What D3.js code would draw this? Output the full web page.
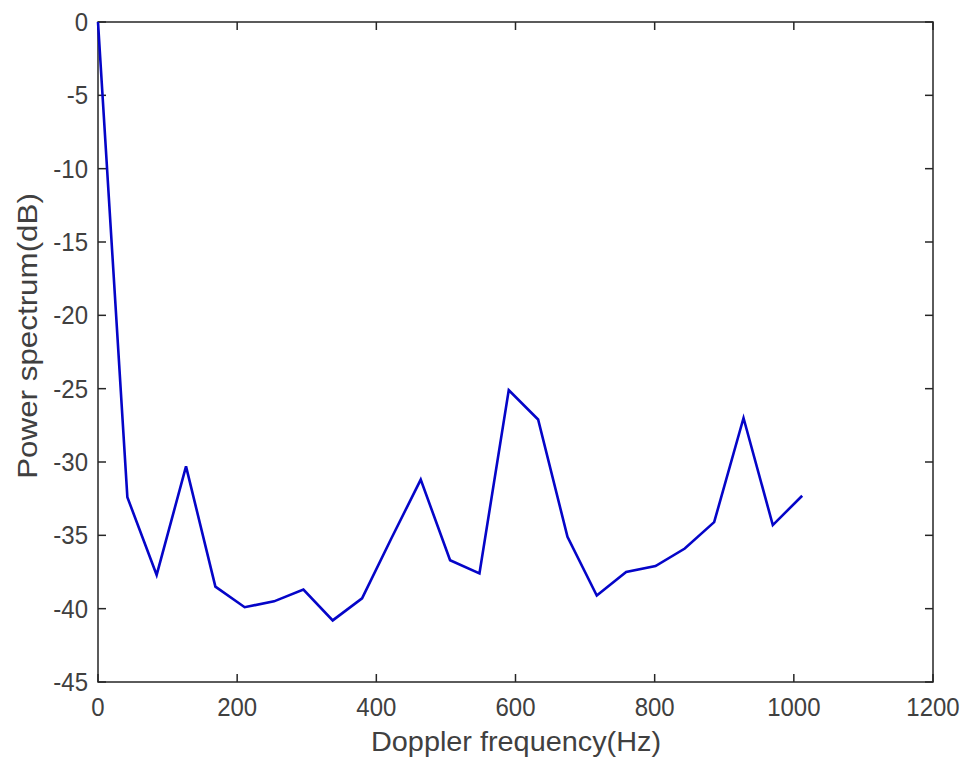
<!DOCTYPE html>
<html>
<head>
<meta charset="utf-8">
<script src="https://cdn.jsdelivr.net/npm/d3@7/dist/d3.min.js"></script>
<style>
  html, body { margin: 0; padding: 0; background: #fff; }
  svg { display: block; }
  text { font-family: "Liberation Sans", Arial, Helvetica, sans-serif; }
</style>
</head>
<body>
<svg id="chart" width="969" height="760"></svg>
<script>
// Data
const freqHz = [0, 42.2, 84.3, 126.5, 168.7, 210.8, 253.0, 295.2, 337.3, 379.5, 421.7, 463.8,
                506.0, 548.2, 590.3, 632.5, 674.7, 716.8, 759.0, 801.2, 843.3, 885.5, 927.7, 969.8, 1012.0];
const powerDb = [0, -32.4, -37.7, -30.3, -38.5, -39.9, -39.5, -38.7, -40.8, -39.3, -35.2, -31.2,
                 -36.7, -37.6, -25.1, -27.1, -35.1, -39.1, -37.5, -37.1, -35.9, -34.1, -27.0, -34.3, -32.3];
const xTicks = [0, 200, 400, 600, 800, 1000, 1200];
const yTicks = [0, -5, -10, -15, -20, -25, -30, -35, -40, -45];
const xLabel = "Doppler frequency(Hz)";
const yLabel = "Power spectrum(dB)";

(function () {
const svg = d3.select("#chart");
const pl = 98, pr = 933, pt = 22, pb = 682;
const x = d3.scaleLinear().domain([0, 1200]).range([pl, pr]);
const y = d3.scaleLinear().domain([-45, 0]).range([pb, pt]);

const axisColor = "#262626";
const textColor = "#404040";
const tickLen = 8;

// frame
svg.append("rect")
  .attr("x", pl).attr("y", pt)
  .attr("width", pr - pl).attr("height", pb - pt)
  .attr("fill", "#fff").attr("stroke", axisColor).attr("stroke-width", 1.5);

// ticks (inward, all four sides)
const tickG = svg.append("g").attr("stroke", axisColor).attr("stroke-width", 1.5);
xTicks.forEach(v => {
  tickG.append("line").attr("x1", x(v)).attr("x2", x(v)).attr("y1", pb).attr("y2", pb - tickLen);
  tickG.append("line").attr("x1", x(v)).attr("x2", x(v)).attr("y1", pt).attr("y2", pt + tickLen);
});
yTicks.forEach(v => {
  tickG.append("line").attr("x1", pl).attr("x2", pl + tickLen).attr("y1", y(v)).attr("y2", y(v));
  tickG.append("line").attr("x1", pr).attr("x2", pr - tickLen).attr("y1", y(v)).attr("y2", y(v));
});

// tick labels
const fs = 24;
xTicks.forEach(v => {
  svg.append("text")
    .attr("transform", `translate(${x(v)},${pb + 34}) scale(1,1.1)`)
    .attr("text-anchor", "middle")
    .attr("fill", textColor).attr("font-size", fs)
    .text(d3.format("d")(v));
});
yTicks.forEach(v => {
  svg.append("text")
    .attr("transform", `translate(${pl - 10},${y(v) + 9}) scale(1,1.1)`)
    .attr("text-anchor", "end")
    .attr("fill", textColor).attr("font-size", fs)
    .text(d3.format("d")(v).replace("\u2212", "-"));
});

// axis labels
svg.append("text")
  .attr("transform", `translate(${516},${751}) scale(1.03,1)`)
  .attr("text-anchor", "middle")
  .attr("fill", textColor).attr("font-size", 28)
  .text(xLabel);
svg.append("text")
  .attr("transform", `translate(${37},${336}) rotate(-90) scale(1.12,1)`)
  .attr("text-anchor", "middle")
  .attr("fill", textColor).attr("font-size", 28)
  .text(yLabel);

// line
const line = d3.line().x((d, i) => x(freqHz[i])).y(d => y(d));
svg.append("path")
  .datum(powerDb)
  .attr("d", line)
  .attr("fill", "none")
  .attr("stroke", "#0505c8")
  .attr("stroke-width", 2.6)
  .attr("stroke-linejoin", "miter");
})();
</script>
</body>
</html>
